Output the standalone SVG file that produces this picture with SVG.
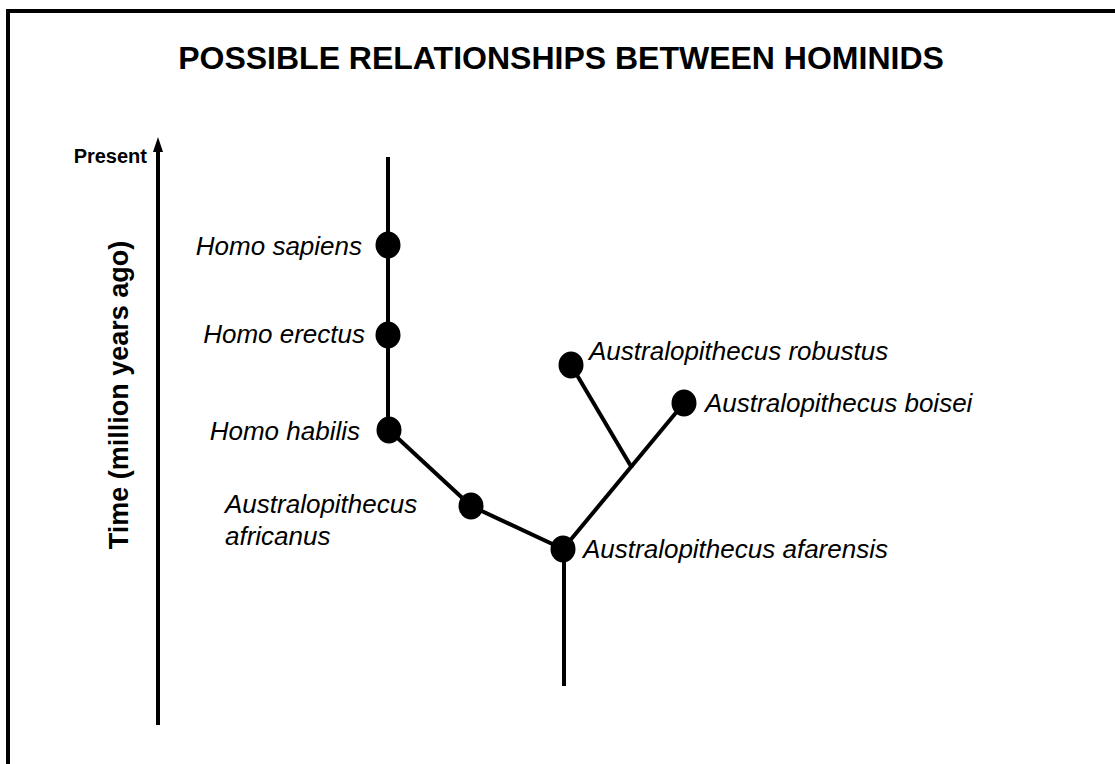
<svg xmlns="http://www.w3.org/2000/svg" width="1115" height="764" viewBox="0 0 1115 764">
<style>
.lbl{font-family:"Liberation Sans",Arial,sans-serif;font-style:italic;font-size:26px;fill:#000}
.bold{font-family:"Liberation Sans",Arial,sans-serif;font-weight:bold;fill:#000}
.edge{stroke:#000;stroke-width:4;fill:none;stroke-linecap:butt}
.dot{fill:#000}
</style>
<rect width="1115" height="764" fill="#fff"/>
<rect x="8" y="11" width="1200" height="900" fill="none" stroke="#000" stroke-width="4"/>
<text class="bold" x="561" y="69" font-size="32" text-anchor="middle">POSSIBLE RELATIONSHIPS BETWEEN HOMINIDS</text>
<g id="axis">
<line x1="158" y1="725" x2="158" y2="150" stroke="#000" stroke-width="4"/>
<path d="M158,137 L163,152 L153,152 Z" fill="#000"/>
<text class="bold" x="147" y="163" font-size="20" text-anchor="end">Present</text>
<text class="bold" font-size="27" text-anchor="middle" transform="translate(128,395) rotate(-90)">Time (million years ago)</text>
</g>
<g id="connectors">
<line class="edge" x1="388" y1="157" x2="388" y2="430"/>
<line class="edge" x1="389" y1="430" x2="471" y2="506"/>
<line class="edge" x1="471" y1="506" x2="563" y2="549"/>
<line class="edge" x1="564" y1="549" x2="564" y2="686"/>
<line class="edge" x1="563" y1="549" x2="684" y2="403"/>
<line class="edge" x1="571" y1="365" x2="632" y2="468"/>
</g>
<g id="homo-sapiens"><ellipse class="dot" cx="388" cy="245" rx="12.5" ry="13.5"/><text class="lbl" x="362" y="255" text-anchor="end">Homo sapiens</text></g>
<g id="homo-erectus"><ellipse class="dot" cx="388" cy="335" rx="12.5" ry="13.5"/><text class="lbl" x="365" y="343" text-anchor="end">Homo erectus</text></g>
<g id="homo-habilis"><ellipse class="dot" cx="389" cy="430" rx="12.5" ry="13.5"/><text class="lbl" x="360" y="440" text-anchor="end">Homo habilis</text></g>
<g id="a-africanus"><ellipse class="dot" cx="471" cy="506" rx="12.5" ry="13.5"/><text class="lbl" x="225" y="513">Australopithecus</text><text class="lbl" x="225" y="545">africanus</text></g>
<g id="a-afarensis"><ellipse class="dot" cx="563" cy="549" rx="12.5" ry="13.5"/><text class="lbl" x="583" y="558">Australopithecus afarensis</text></g>
<g id="a-robustus"><ellipse class="dot" cx="571" cy="365" rx="12.5" ry="13.5"/><text class="lbl" x="589" y="360">Australopithecus robustus</text></g>
<g id="a-boisei"><ellipse class="dot" cx="684" cy="403" rx="12.5" ry="13.5"/><text class="lbl" x="705" y="412">Australopithecus boisei</text></g>
</svg>
